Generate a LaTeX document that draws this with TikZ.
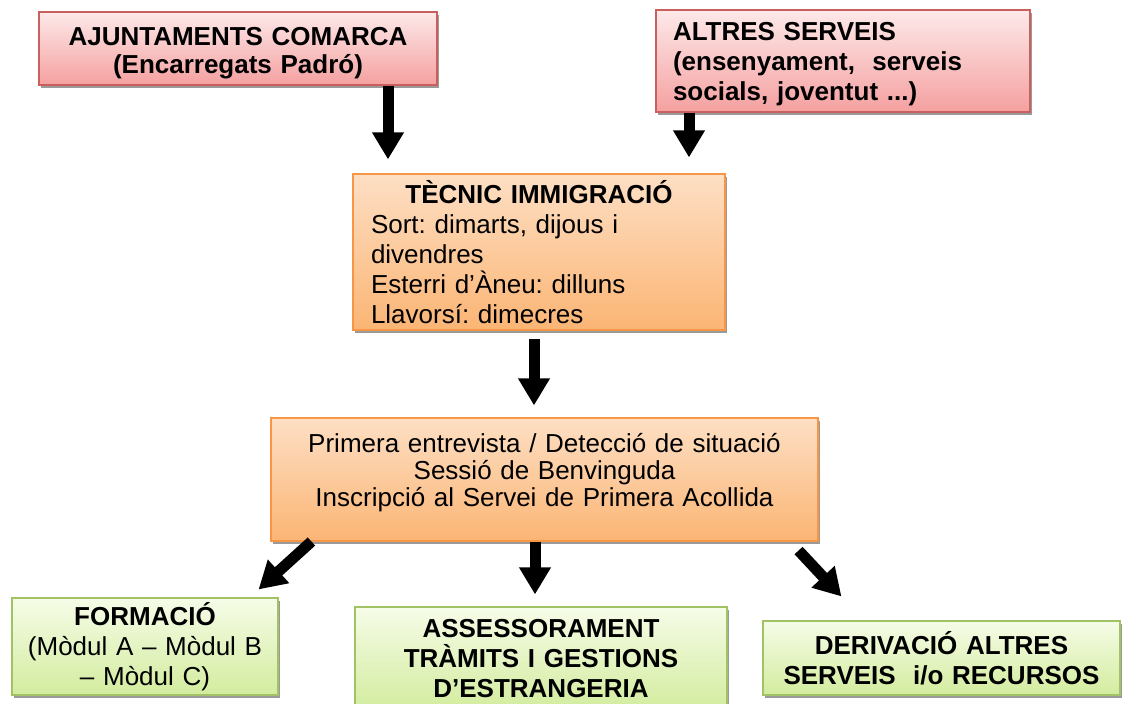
\documentclass[tikz,border=0pt]{standalone}
\usepackage{fontspec}
\setmainfont{Liberation Sans}
\usetikzlibrary{arrows.meta,shadows}
\frenchspacing
\definecolor{redtop}{HTML}{FDE9E9}
\definecolor{redbot}{HTML}{F5A0A0}
\definecolor{redline}{HTML}{C9605D}
\definecolor{ortop}{HTML}{FDDFC4}
\definecolor{orbot}{HTML}{FBB574}
\definecolor{orline}{HTML}{F79646}
\definecolor{grtop}{HTML}{F6FCE8}
\definecolor{grbot}{HTML}{D3EC9E}
\definecolor{grline}{HTML}{A2C266}
\definecolor{shadowgray}{HTML}{9A9A9A}
\begin{document}
\begin{tikzpicture}[x=1pt,y=-1pt,
  box/.style={rectangle, line width=1.1pt, inner sep=0pt,
    general shadow={fill=shadowgray, shadow xshift=1.5pt, shadow yshift=-3pt},
    font=\fontsize{26}{30}\selectfont},
  redbox/.style={box, draw=redline, top color=redtop, bottom color=redbot},
  orbox/.style={box, draw=orline, top color=ortop, bottom color=orbot},
  grbox/.style={box, draw=grline, top color=grtop, bottom color=grbot},
  blockarrow/.style={line width=11pt, -{Triangle[width=30pt,length=27pt]}}]
\useasboundingbox (0,0) rectangle (1122,704);
\begin{scope}
\clip (0,0) rectangle (1122,704);
\node[redbox, minimum width=398pt, minimum height=73pt, text width=380pt, align=center,
  font=\fontsize{26}{28}\selectfont]
  (aj) at (238,48.5) {\rule{0pt}{27pt}\textbf{AJUNTAMENTS COMARCA}\\\textbf{(Encarregats Padró)}};
\node[redbox, minimum width=374pt, minimum height=102pt, text width=340pt, align=left]
  (al) at (843,61) {\rule{0pt}{25pt}\textbf{ALTRES SERVEIS}\\\textbf{(ensenyament,\ \ serveis}\\\textbf{socials, joventut ...)}};
\node[orbox, minimum width=372pt, minimum height=156pt, text width=336pt, align=left]
  (tec) at (539,252) {\makebox[\linewidth]{\textbf{TÈCNIC IMMIGRACIÓ}}\\Sort: dimarts, dijous i\\divendres\\Esterri d’Àneu: dilluns\\Llavorsí: dimecres};
\node[orbox, minimum width=547pt, minimum height=123pt, text width=520pt, align=center,
  font=\fontsize{26}{27}\selectfont]
  (pri) at (544.5,479.5) {Primera entrevista / Detecció de situació\\Sessió de Benvinguda\\Inscripció al Servei de Primera Acollida\rule[-20pt]{0pt}{20pt}};
\node[grbox, minimum width=266pt, minimum height=97pt, text width=250pt, align=center]
  (for) at (145,646.5) {\textbf{FORMACIÓ}\\(Mòdul A – Mòdul B\\– Mòdul C)};
\node[grbox, minimum width=372pt, minimum height=103pt, text width=350pt, align=center]
  (ass) at (541,658.5) {\textbf{ASSESSORAMENT}\\\textbf{TRÀMITS I GESTIONS}\\\textbf{D’ESTRANGERIA}};
\node[grbox, minimum width=357pt, minimum height=74pt, text width=340pt, align=center]
  (der) at (941.5,658) {\textbf{DERIVACIÓ ALTRES}\\\textbf{SERVEIS\ \ i/o RECURSOS}};
\end{scope}
\draw[blockarrow] ([xshift=150pt]aj.south) -- ([xshift=-151pt,yshift=14pt]tec.north);
\draw[blockarrow] ([xshift=-154pt]al.south) -- ([xshift=150pt,yshift=16pt]tec.north);
\draw[blockarrow] ([xshift=-5pt,yshift=-8pt]tec.south) -- ([xshift=-10.5pt,yshift=12pt]pri.north);
\draw[blockarrow] ([xshift=41pt]pri.south west) -- ([xshift=-20pt,yshift=8pt]for.north east);
\draw[blockarrow] ([xshift=-9.5pt]pri.south) -- ([xshift=-6pt,yshift=12pt]ass.north);
\draw[blockarrow] ([xshift=-20pt,yshift=-9pt]pri.south east) -- ([xshift=79pt,yshift=24pt]der.north west);
\end{tikzpicture}
\end{document}
